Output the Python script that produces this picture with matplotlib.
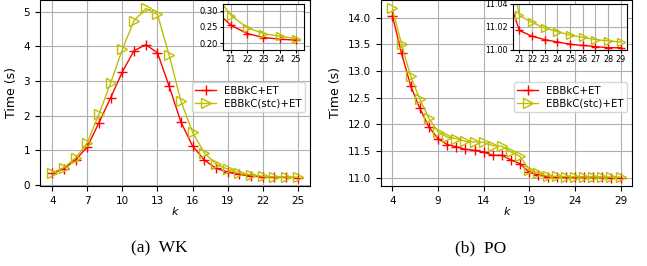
import matplotlib
matplotlib.use("Agg")
import matplotlib.pyplot as plt

# ---- data ----
k_wk = list(range(4, 26))
wk_et = [0.33, 0.47, 0.72, 1.10, 1.80, 2.52, 3.27, 3.88, 4.05, 3.82, 2.85, 1.82,
         1.12, 0.72, 0.48, 0.37, 0.30, 0.255, 0.23, 0.218, 0.213, 0.21]
wk_stc = [0.35, 0.50, 0.78, 1.22, 2.05, 2.95, 3.92, 4.75, 5.10, 4.93, 3.75, 2.43,
          1.52, 0.93, 0.60, 0.45, 0.35, 0.285, 0.248, 0.23, 0.222, 0.215]

k_po = list(range(4, 30))
po_et = [14.03, 13.33, 12.72, 12.30, 11.95, 11.73, 11.62, 11.58, 11.53, 11.51,
         11.48, 11.42, 11.42, 11.33, 11.26, 11.10, 11.05, 11.017, 11.012, 11.009,
         11.007, 11.005, 11.004, 11.003, 11.002, 11.002]
po_stc = [14.17, 13.50, 12.90, 12.47, 12.11, 11.86, 11.76, 11.73, 11.68, 11.67,
          11.66, 11.60, 11.59, 11.48, 11.40, 11.14, 11.09, 11.030, 11.024, 11.019,
          11.016, 11.013, 11.011, 11.009, 11.008, 11.007]

wk_xticks = [4, 7, 10, 13, 16, 19, 22, 25]
po_xticks = [4, 9, 14, 19, 24, 29]
labels = ["EBBkC+ET", "EBBkC(stc)+ET"]
captions = ["(a)  WK", "(b)  PO"]

W, H = 647, 266
fig = plt.figure(figsize=(W / 100, H / 100), dpi=100)

def rect(l, t, r, b):
    return [l / W, 1 - b / H, (r - l) / W, (b - t) / H]

red = "#ff0000"
yel = "#bfbf00"

def draw(ax, x, a, b, ms=6.5):
    ax.plot(x, a, color=red, marker="+", markersize=ms, linewidth=1.0, label=labels[0])
    ax.plot(x, b, color=yel, marker=">", markersize=ms, markerfacecolor="none",
            linewidth=1.0, label=labels[1])

# left
ax1 = fig.add_axes(rect(40, 0, 310, 186))
draw(ax1, k_wk, wk_et, wk_stc)
ax1.set_xticks(wk_xticks)
ax1.set_yticks([0, 1, 2, 3, 4, 5])
ax1.grid(True, color="#b0b0b0", linewidth=0.8)
ax1.tick_params(labelsize=7.5)
ax1.set_ylabel("Time (s)", fontsize=9)
ax1.set_xlabel("k", fontsize=8, style="italic", labelpad=1)
ax1.legend(loc="upper right", bbox_to_anchor=(1.0, 0.585), fontsize=7.3,
           handlelength=2.0, borderpad=0.35, labelspacing=0.25)

in1 = fig.add_axes(rect(223, 4, 304, 50))
draw(in1, k_wk, wk_et, wk_stc, ms=5.5)
in1.set_xlim(20.5, 25.5)
in1.set_ylim(0.18, 0.32)
in1.set_xticks([21, 22, 23, 24, 25])
in1.set_yticks([0.20, 0.25, 0.30])
in1.grid(True, color="#b0b0b0", linewidth=0.8)
in1.tick_params(labelsize=6.0, length=2, pad=1.5)

# right
ax2 = fig.add_axes(rect(381, 0, 632, 186))
draw(ax2, k_po, po_et, po_stc)
ax2.set_xticks(po_xticks)
ax2.set_yticks([11.0, 11.5, 12.0, 12.5, 13.0, 13.5, 14.0])
ax2.grid(True, color="#b0b0b0", linewidth=0.8)
ax2.tick_params(labelsize=7.5)
ax2.set_ylabel("Time (s)", fontsize=9)
ax2.set_xlabel("k", fontsize=8, style="italic", labelpad=1)
ax2.legend(loc="upper right", bbox_to_anchor=(1.0, 0.585), fontsize=7.3,
           handlelength=2.0, borderpad=0.35, labelspacing=0.25)

in2 = fig.add_axes(rect(513, 4, 627, 50))
draw(in2, k_po, po_et, po_stc, ms=5.5)
in2.set_xlim(20.5, 29.5)
in2.set_ylim(11.0, 11.04)
in2.set_xticks(list(range(21, 30)))
in2.set_yticks([11.00, 11.02, 11.04])
in2.grid(True, color="#b0b0b0", linewidth=0.8)
in2.tick_params(labelsize=5.8, length=2, pad=1.5)

fig.text(159 / W, 1 - 248 / H, captions[0], fontsize=12.5, family="Liberation Serif",
         ha="center", va="center")
fig.text(481 / W, 1 - 248 / H, captions[1], fontsize=12.5, family="Liberation Serif",
         ha="center", va="center")

fig.savefig("out.png", dpi=100)
